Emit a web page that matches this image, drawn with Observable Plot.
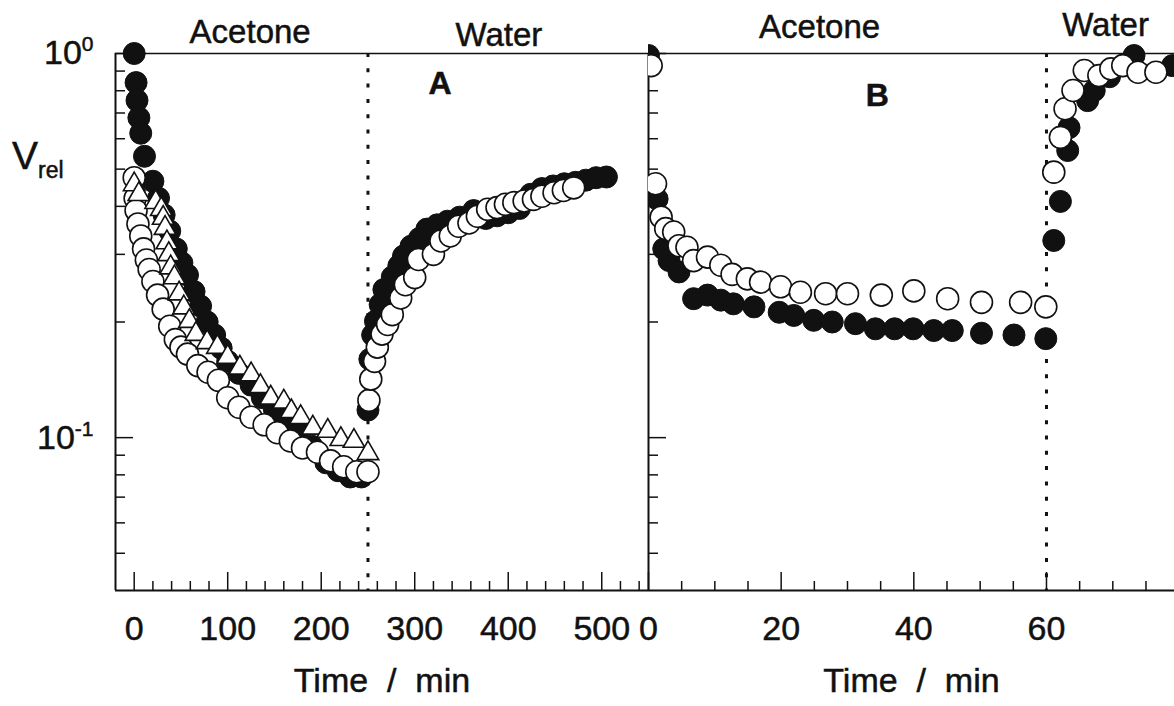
<!DOCTYPE html>
<html>
<head>
<meta charset="utf-8">
<script src="https://cdn.jsdelivr.net/npm/d3@7"></script>
<script src="https://cdn.jsdelivr.net/npm/@observablehq/plot@0.6"></script>
<style>
  body { margin: 0; background: #fff; }
  #wrap { position: relative; width: 1174px; height: 706px; overflow: hidden; background: #fff;
          font-family: "Liberation Sans", Arial, sans-serif; color: #111; }
  #wrap svg { position: absolute; top: 0; left: 0; max-width: none !important; width: 1174px; height: 706px; }
  #bdots { position: absolute; top: 0; left: 648px; width: 526px; height: 706px; overflow: hidden; }
  #wrap #bdots svg { left: -648px; }
  #wrap g[aria-label="x-axis tick label"] { font-size: 34px; }
  #wrap g[aria-label="y-axis tick label"] { font-size: 34px; }
  #wrap text { stroke: #111; stroke-width: 0.5px; }
  #vlabel { position: absolute; left: 12px; top: 137px; font-size: 39px; line-height: 38px;
            -webkit-text-stroke: 0.5px #111; }
  #vlabel span { font-size: 23px; position: relative; top: 9px; }
</style>
</head>
<body>
<div id="wrap">
  <div id="vlabel">V<span>rel</span></div>
</div>
<script>
// ---------------- data (time in min, relative volume) ----------------
// Panel A: solvent switched from acetone to water at t = 250 min
const aFilled = [
  [0,1.0],[2,0.84],[3,0.755],[5,0.68],[7,0.62],[11,0.54],[20,0.465],[26,0.42],[32,0.38],[38,0.345],
  [45,0.31],[51,0.285],[57,0.265],[64,0.24],[71,0.22],[78,0.2],[86,0.185],[93,0.171],[100,0.158],
  [112,0.147],[125,0.137],[137,0.127],[150,0.118],[163,0.111],[176,0.104],[190,0.095],[205,0.086],
  [218,0.082],[231,0.079],[243,0.079],
  [250,0.118],[252,0.16],[255,0.185],[258,0.201],[263,0.222],[267,0.243],[276,0.262],[283,0.28],
  [288,0.297],[296,0.315],[305,0.33],[313,0.349],[324,0.358],[335,0.366],[348,0.375],[363,0.39],
  [376,0.372],[388,0.378],[400,0.385],[412,0.395],[424,0.43],[436,0.445],[448,0.452],[460,0.458],
  [472,0.462],[483,0.468],[494,0.475],[505,0.477]
];
const aOpen = [
  [0,0.475],[1,0.42],[2,0.39],[4,0.36],[7,0.335],[10,0.31],[13,0.29],[16,0.274],[20,0.255],[25,0.235],
  [31,0.216],[38,0.195],[44,0.18],[50,0.172],[57,0.165],[68,0.154],[79,0.148],[90,0.141],[100,0.127],
  [112,0.12],[125,0.113],[139,0.108],[153,0.103],[167,0.098],[180,0.094],[196,0.0916],[210,0.087],
  [224,0.084],[238,0.0815],[250,0.0815],
  [251,0.125],[253,0.142],[257,0.158],[260,0.172],[265,0.186],[271,0.197],[276,0.209],[285,0.231],
  [290,0.25],[300,0.261],[304,0.291],[320,0.30],[328,0.325],[338,0.335],[347,0.355],[358,0.362],
  [367,0.377],[378,0.393],[388,0.397],[397,0.405],[406,0.409],[417,0.413],[427,0.417],[436,0.425],
  [449,0.434],[459,0.44],[470,0.447]
];
const aTriangle = [
  [0,0.456],[5,0.43],[23,0.41],[29,0.393],[31,0.373],[33,0.351],[35,0.322],[37,0.30],[39,0.277],
  [43,0.261],[48,0.237],[53,0.218],[59,0.201],[66,0.186],[78,0.177],[89,0.172],[100,0.162],[113,0.152],
  [125,0.146],[135,0.136],[146,0.127],[160,0.124],[168,0.117],[178,0.113],[191,0.106],[207,0.104],
  [221,0.099],[235,0.098],[250,0.091]
];
// Panel B: solvent switched from acetone to water at t = 60 min
const bFilled = [
  [0,0.988],[1.3,0.418],[2.3,0.31],[3.1,0.289],[4.6,0.27],[6.8,0.23],[8.9,0.235],[10.9,0.228],
  [12.8,0.223],[15.9,0.219],[19.7,0.212],[21.9,0.208],[24.9,0.202],[27.7,0.2],[31.2,0.198],[34.2,0.192],
  [37.1,0.192],[39.9,0.192],[43,0.19],[45.8,0.19],[50.2,0.187],[55.1,0.185],[59.9,0.181],
  [61.1,0.326],[62.1,0.412],[63.2,0.559],[63.4,0.641],[66.2,0.754],[67.2,0.801],[69.5,0.87],
  [71.5,0.93],[73.2,0.988],[79,0.93]
];
const bOpen = [
  [0.4,0.93],[1.06,0.458],[1.9,0.375],[2.6,0.35],[3.8,0.343],[4.6,0.316],[5.8,0.313],[6.8,0.289],
  [8.9,0.295],[10.9,0.281],[12.6,0.266],[14.9,0.259],[16.9,0.254],[19.9,0.247],[22.9,0.239],[26.7,0.237],
  [30,0.237],[35.1,0.235],[40,0.241],[45.1,0.23],[50.2,0.225],[56.1,0.225],[59.9,0.219],
  [61.1,0.491],[62.1,0.605],[62.8,0.718],[64,0.801],[65.7,0.903],[67.9,0.876],[69.7,0.912],
  [71.5,0.93],[73.8,0.894],[76.5,0.894]
];
const switchA = [250];
const switchB = [60];
const xLabelsA = [0, 100, 200, 300, 400, 500];
const xLabelsB = [0, 20, 40, 60];
const yLabels = [1, 0.1];
const yMinor = [0.05, 0.06, 0.07, 0.08, 0.09, 0.2, 0.3, 0.4, 0.5, 0.6, 0.7, 0.8, 0.9];
const xMinorA = d3.range(20, 541, 20).filter(d => d % 100 !== 0);
const xMinorB = d3.range(5, 80, 5).filter(d => d % 20 !== 0);

// ---------------- layout ----------------
const W = 1174, H = 706, TOP = 53, BOT = 590;
const A_LEFT = 115, SPLIT = 648;
const plotH = BOT - TOP;
const ink = "#111";
const font = "'Liberation Sans', Arial, sans-serif";
const yScale = {type: "log", domain: [0.04, 1]};
const style = {fontFamily: font, background: "transparent", color: ink, overflow: "visible"};
const supFix = svg => {
  svg.querySelectorAll("text").forEach(t => {
    const s = t.textContent, i = s.indexOf("^");
    if (i < 0) return;
    t.textContent = s.slice(0, i);
    const ts = document.createElementNS("http://www.w3.org/2000/svg", "tspan");
    ts.setAttribute("font-size", "21");
    ts.setAttribute("dy", "-13");
    ts.textContent = s.slice(i + 1);
    t.appendChild(ts);
  });
  return svg;
};
const yFmt = d => d === 1 ? "10^0" : "10^-1";

function axesMarks(xDomain, plotW, labels, minor, sw, withYLabels) {
  return [
    Plot.ruleY(yMinor, {stroke: ink, strokeWidth: 1.5, insetRight: plotW - 10}),
    Plot.ruleY(yLabels, {stroke: ink, strokeWidth: 1.5, insetRight: plotW - 18}),
    Plot.ruleX(minor, {stroke: ink, strokeWidth: 1.5, insetTop: plotH - 9}),
    Plot.ruleX(labels, {stroke: ink, strokeWidth: 1.5, insetTop: plotH - 18}),
    Plot.ruleX([xDomain[0]], {stroke: ink, strokeWidth: 2}),
    Plot.ruleY([0.04], {stroke: ink, strokeWidth: 2}),
    Plot.ruleY([1], {stroke: ink, strokeWidth: 1.5}),
    Plot.ruleX(sw, {stroke: ink, strokeWidth: 3, strokeDasharray: "4,11.3"}),
    Plot.axisX({ticks: labels, tickSize: 0, tickPadding: 25, fontSize: 34, label: null}),
    withYLabels
      ? Plot.axisY({ticks: yLabels, tickSize: 0, tickPadding: 22, fontSize: 34, tickFormat: yFmt, label: null})
      : Plot.axisY({ticks: [], label: null}),
    Plot.text(["Time  /  min"], {frameAnchor: "bottom", dy: 101, fontSize: 34, fill: ink})
  ];
}

// ---------------- Panel A ----------------
const xA = [-20, 550];
const plotA = Plot.plot({
  width: W, height: H,
  marginTop: TOP, marginBottom: H - BOT, marginLeft: A_LEFT, marginRight: W - SPLIT,
  x: {domain: xA}, y: yScale, style,
  marks: [
    ...axesMarks(xA, SPLIT - A_LEFT, xLabelsA, xMinorA, switchA, true),
    Plot.text(["Acetone"], {x: 124, y: 1, dy: -21, fontSize: 33, fill: ink}),
    Plot.text(["Water"], {x: 390, y: 1, dy: -18, fontSize: 33, fill: ink}),
    Plot.text(["A"], {x: 327, y: 0.835, fontSize: 32, fontWeight: "bold", fill: ink}),
    Plot.dot(aFilled, {x: d => d[0], y: d => d[1], r: 11, fill: ink, stroke: ink, strokeWidth: 1}),
    Plot.dot(aOpen, {x: d => d[0], y: d => d[1], r: 11, fill: "white", stroke: ink, strokeWidth: 1.6}),
    Plot.dot(aTriangle, {x: d => d[0], y: d => d[1], r: 8, symbol: "triangle", fill: "white", stroke: ink, strokeWidth: 1.6})
  ]
});

// ---------------- Panel B ----------------
const xB = [0, 79.3];
const bBase = {
  width: W, height: H,
  marginTop: TOP, marginBottom: H - BOT, marginLeft: SPLIT, marginRight: 0,
  y: yScale, style
};
const plotB = Plot.plot({
  ...bBase,
  x: {domain: xB},
  marks: [
    ...axesMarks(xB, W - SPLIT, xLabelsB, xMinorB, switchB, false),
    Plot.text(["Acetone"], {x: 25.8, y: 1, dy: -26, fontSize: 33, fill: ink}),
    Plot.text(["Water"], {x: 68.9, y: 1, dy: -28, fontSize: 33, fill: ink}),
    Plot.text(["B"], {x: 34.5, y: 0.775, fontSize: 32, fontWeight: "bold", fill: ink})
  ]
});
const plotBdots = Plot.plot({
  ...bBase,
  x: {domain: xB, axis: null},
  y: {...yScale, axis: null},
  marks: [
    Plot.dot(bFilled, {x: d => d[0], y: d => d[1], r: 11, fill: ink, stroke: ink, strokeWidth: 1}),
    Plot.dot(bOpen, {x: d => d[0], y: d => d[1], r: 11, fill: "white", stroke: ink, strokeWidth: 1.6})
  ]
});

const wrap = document.getElementById("wrap");
wrap.appendChild(supFix(plotA));
wrap.appendChild(plotB);
const bd = document.createElement("div");
bd.id = "bdots";
bd.appendChild(plotBdots);
wrap.appendChild(bd);
</script>
</body>
</html>
